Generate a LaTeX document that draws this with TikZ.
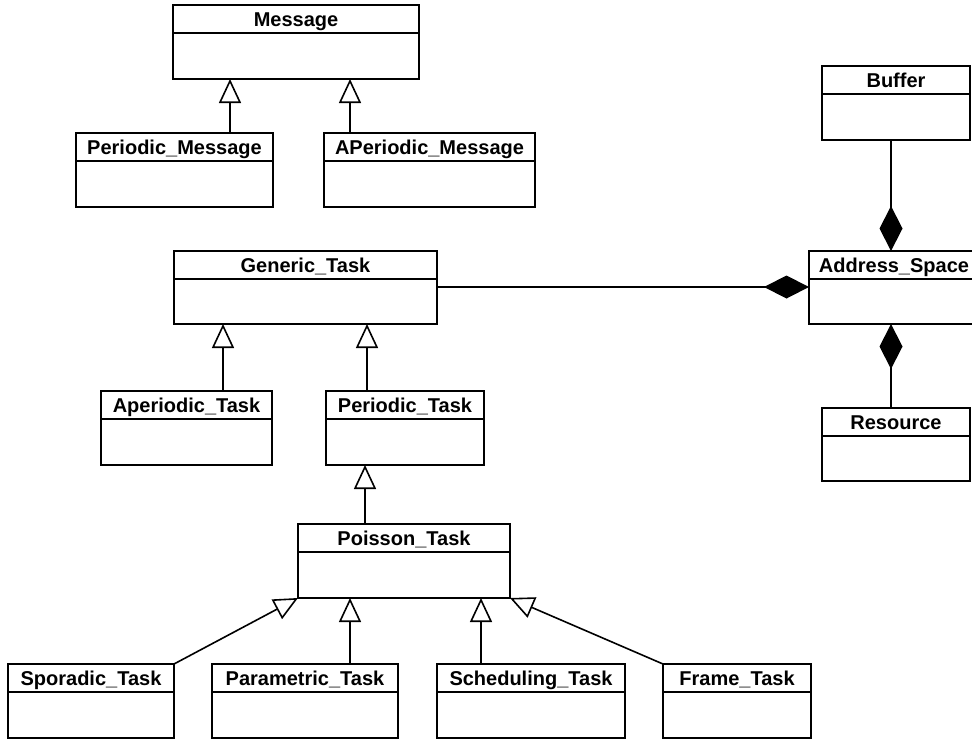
\documentclass[tikz,border=0pt]{standalone}
\usepackage{fontspec}
\setmainfont{Liberation Sans}
\usetikzlibrary{arrows.meta}

% a UML class: name, top-left x, top-left y, width, height, title
\newcommand\umlclass[6]{%
  \node[classbox, minimum width=#4pt, minimum height=#5pt] (#1) at (#2,#3) {};
  \draw[edge] ([yshift=-28pt]#1.north west) -- ([yshift=-28pt]#1.north east);
  \node[classtitle] at ([yshift=-21.5pt]#1.north) {#6};
}

\tikzset{
  classbox/.style={draw, line width=1.6pt, anchor=north west, inner sep=0pt, outer sep=0pt},
  classtitle/.style={font=\bfseries\fontsize{20}{23}\selectfont, inner sep=0pt, anchor=base},
  edge/.style={line width=1.6pt},
  inherit/.style={edge, -{Triangle[open, length=24pt, width=22pt, fill=white]}},
  compose/.style={edge, -{Diamond[length=45pt, width=23pt]}},
}

\begin{document}
\begin{tikzpicture}[x=1pt, y=-1pt]
\useasboundingbox (0,0) rectangle (972,740);

% messages
\umlclass{msg}{173}{5}{246}{74}{Message}
\umlclass{pmsg}{76}{133}{197}{74}{Periodic\_Message}
\umlclass{amsg}{324}{133}{211}{74}{APeriodic\_Message}

% memory side
\umlclass{buf}{822}{66}{148}{74}{Buffer}
\umlclass{as}{809}{251}{170}{73}{Address\_Space}
\umlclass{res}{822}{408}{148}{73}{Resource}

% task hierarchy
\umlclass{gen}{174}{251}{263}{73}{Generic\_Task}
\umlclass{aper}{101}{391}{171}{74}{Aperiodic\_Task}
\umlclass{per}{326}{391}{158}{74}{Periodic\_Task}
\umlclass{poi}{298}{524}{212}{74}{Poisson\_Task}
\umlclass{spo}{8}{664}{166}{74}{Sporadic\_Task}
\umlclass{par}{212}{664}{186}{74}{Parametric\_Task}
\umlclass{sch}{437}{664}{188}{74}{Scheduling\_Task}
\umlclass{frm}{663}{664}{148}{74}{Frame\_Task}

% vertical lanes of the connectors
\coordinate (xm1) at (230,0);
\coordinate (xm2) at (350,0);
\coordinate (xg1) at (223,0);
\coordinate (xg2) at (367,0);
\coordinate (xp) at (365,0);
\coordinate (xq1) at (350,0);
\coordinate (xq2) at (481,0);
\coordinate (xa) at (891,0);
\coordinate (ya) at (0,287);

% generalisations
\draw[inherit] (pmsg.north -| xm1) -- (msg.south -| xm1);
\draw[inherit] (amsg.north -| xm2) -- (msg.south -| xm2);
\draw[inherit] (aper.north -| xg1) -- (gen.south -| xg1);
\draw[inherit] (per.north -| xg2) -- (gen.south -| xg2);
\draw[inherit] (poi.north -| xp) -- (per.south -| xp);
\draw[inherit] (par.north -| xq1) -- (poi.south -| xq1);
\draw[inherit] (sch.north -| xq2) -- (poi.south -| xq2);
\draw[inherit] (spo.north east) -- (poi.south west);
\draw[inherit] (frm.north west) -- (poi.south east);

% compositions
\draw[compose] (buf.south -| xa) -- (as.north -| xa);
\draw[compose] (res.north -| xa) -- (as.south -| xa);
\draw[compose] (gen.east |- ya) -- (as.west |- ya);
\end{tikzpicture}
\end{document}
